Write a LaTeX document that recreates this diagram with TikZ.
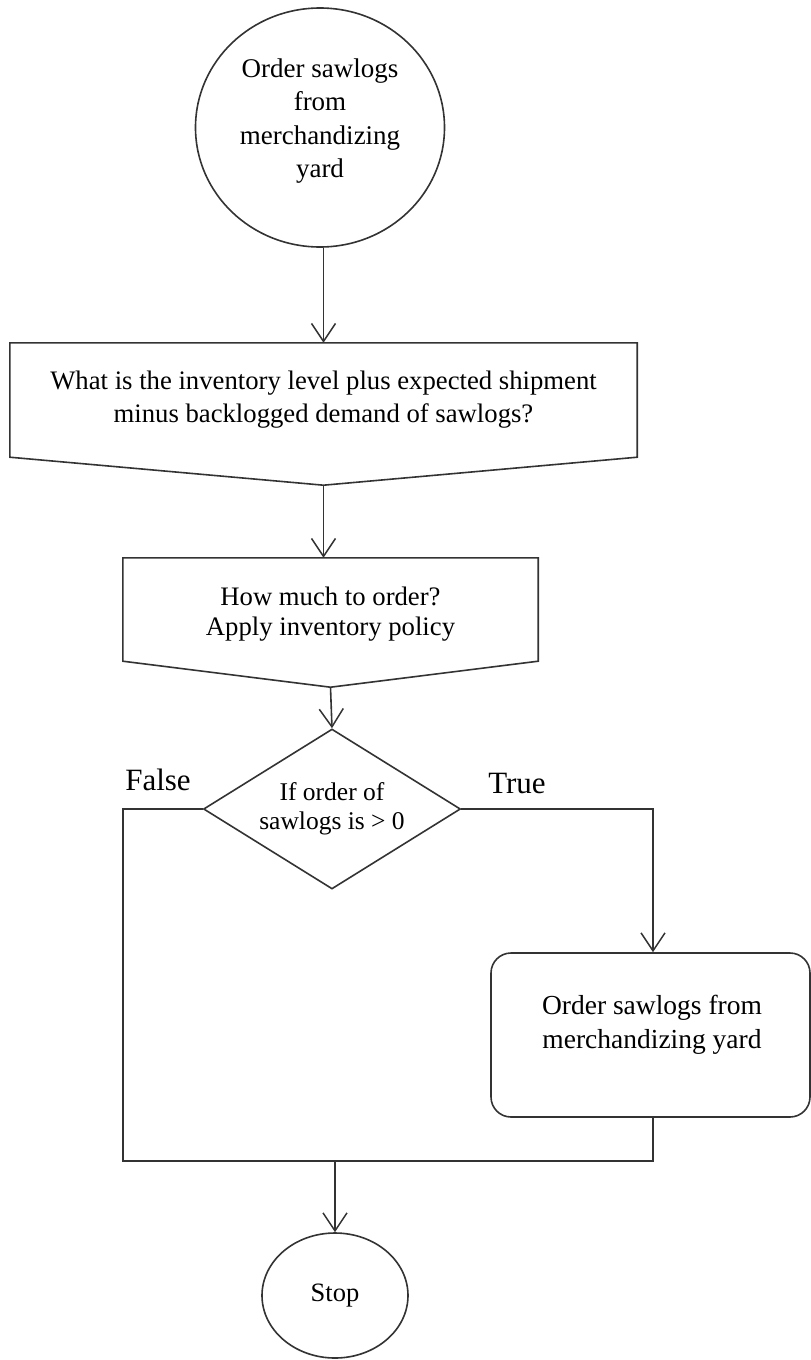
\documentclass[tikz,border=0pt]{standalone}
\usepackage{fontspec}
\setmainfont{Liberation Serif}
\usetikzlibrary{shapes.geometric,arrows.meta}
\tikzset{
  ln/.style={draw=black!80, line width=1.6pt},
  arr/.style={ln, -{Straight Barb[length=18pt,width=24pt,line width=1.5pt]}},
  txt/.style={align=center, inner sep=0pt},
  lbl/.style={font=\fontsize{31}{36}\selectfont, inner sep=0pt},
  boxn/.style={rectangle, draw=none, inner sep=0pt, align=center},
}
\begin{document}
\begin{tikzpicture}[x=1pt,y=-1pt]
\useasboundingbox (0,0) rectangle (811,1360);
% start circle
\node[ellipse, ln, minimum width=249pt, minimum height=239pt, inner sep=0pt] (start) at (320,127.5) {};
\node[txt, font=\fontsize{27}{33.5}\selectfont] (starttxt) at (320,121) {Order sawlogs\\from\\merchandizing\\yard};
% box 1
\node[boxn, minimum width=627pt, minimum height=114pt, font=\fontsize{26.7}{33}\selectfont] (b1) at (323.5,400) {What is the inventory level plus expected shipment\\minus backlogged demand of sawlogs?};
\coordinate (b1tip) at ([yshift=-28pt]b1.south);
\draw[ln] (b1.north west) -- (b1.north east) -- (b1.south east) -- (b1tip) -- (b1.south west) -- cycle;
% box 2
\node[boxn, minimum width=415pt, minimum height=103pt] (b2) at (330.5,609.5) {};
\node[txt, font=\fontsize{26.7}{29.5}\selectfont] (b2txt) at (330.5,614) {How much to order?\\Apply inventory policy};
\coordinate (b2tip) at ([yshift=-26pt]b2.south);
\draw[ln] (b2.north west) -- (b2.north east) -- (b2.south east) -- (b2tip) -- (b2.south west) -- cycle;
% decision
\node[diamond, ln, aspect=1.6, minimum width=257pt, minimum height=160pt, inner sep=0pt, align=center, font=\fontsize{25.5}{29}\selectfont] (dec) at (332,809) {If order of\\sawlogs is > 0};
\node[lbl] (lf) at (158,780) {False};
\node[lbl] (lt) at (517,783) {True};
% action
\node[rectangle, ln, rounded corners=20pt, minimum width=319pt, minimum height=164pt] (act) at (650.5,1035) {};
\node[txt, font=\fontsize{27.5}{34}\selectfont] (acttxt) at (652,1025) {Order sawlogs from\\merchandizing yard};
% stop
\node[ellipse, ln, minimum width=146pt, minimum height=125pt, inner sep=0pt, font=\fontsize{26.5}{30}\selectfont] (stop) at (335,1295.5) {Stop};
% junction coordinates
\coordinate (fb) at (123,1161);
\coordinate (jr) at (653,1161);
% connectors
\draw[arr] (start.south -| b1tip) -- (b1tip |- b1.north);
\draw[arr] (b1tip) -- (b1tip |- b2.north);
\draw[arr] (b2tip) -- (dec.north);
\draw[ln] (dec.west) -| (fb) -- (jr) -- (jr |- act.south);
\draw[arr] (dec.east) -| (jr |- act.north);
\draw[arr] (stop.north |- fb) -- (stop.north);
\end{tikzpicture}
\end{document}
